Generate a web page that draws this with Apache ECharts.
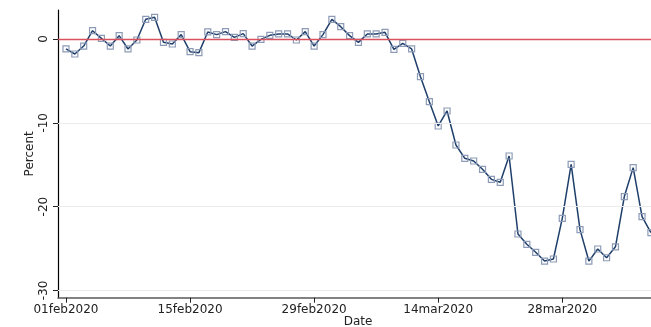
<!DOCTYPE html>
<html>
<head>
<meta charset="utf-8">
<script src="https://cdn.jsdelivr.net/npm/echarts@6/dist/echarts.min.js"></script>
<style>
html,body{margin:0;padding:0;background:#fff;}
#chart{width:651px;height:327px;}
</style>
</head>
<body>
<div id="chart"></div>
<script>
// Day offsets from 01feb2020 for the x tick labels
const tickDays = [0, 14, 28, 42, 56];
const tickLabels = ['01feb2020', '15feb2020', '29feb2020', '14mar2020', '28mar2020'];
const yTicks = [0, -10, -20, -30];
const gridValues = [-10, -20, -30];
const refValue = 0;
// Daily values, 01feb2020 .. 07apr2020
const percent = [
  -1.19, -1.79, -0.84, 0.99, 0.08, -0.84, 0.40, -1.19, -0.12, 2.35,
  2.59, -0.40, -0.60, 0.52, -1.51, -1.63, 0.84, 0.52, 0.88, 0.20,
  0.64, -0.84, -0.04, 0.44, 0.60, 0.60, -0.12, 0.88, -0.84, 0.52,
  2.35, 1.47, 0.40, -0.40, 0.60, 0.60, 0.80, -1.23, -0.52, -1.19,
  -4.5, -7.48, -10.38, -8.59, -12.65, -14.24, -14.56, -15.55, -16.75, -17.1,
  -13.96, -23.27, -24.5, -25.45, -26.5, -26.25, -21.4, -14.96, -22.75, -26.5,
  -25.06, -26.1, -24.8, -18.8, -15.35, -21.2, -23.1
];

const seriesData = percent.map((v, i) => [i, v]);
const font = 'DejaVu Sans';

const chart = echarts.init(document.getElementById('chart'), null, {renderer: 'canvas'});
chart.setOption({
  animation: false,
  backgroundColor: '#ffffff',
  grid: {left: 58, right: -7, top: 10, bottom: 29.3, containLabel: false, outerBoundsMode: 'none'},
  xAxis: {
    type: 'value', min: -0.9, max: 66.8,
    name: 'Date', nameLocation: 'middle', nameGap: 18, nameMoveOverlap: false,
    nameTextStyle: {fontFamily: font, fontSize: 12, color: '#222'},
    axisLine: {show: true, onZero: false, lineStyle: {color: '#5a5a5a', width: 1.5}},
    axisTick: {show: true, length: 5, customValues: tickDays, lineStyle: {color: '#222', width: 1}},
    axisLabel: {
      customValues: tickDays, margin: 6,
      fontFamily: font, fontSize: 12, color: '#222',
      formatter: v => tickLabels[tickDays.indexOf(v)] || ''
    },
    splitLine: {show: false}
  },
  yAxis: {
    type: 'value', min: -30.87, max: 3.46,
    name: 'Percent', nameLocation: 'middle', nameGap: 22, nameMoveOverlap: false,
    nameTextStyle: {fontFamily: font, fontSize: 12, color: '#222'},
    axisLine: {show: true, onZero: false, lineStyle: {color: '#000', width: 1.2}},
    axisTick: {show: true, length: 5, customValues: yTicks, lineStyle: {color: '#222', width: 1}},
    axisLabel: {
      customValues: yTicks, rotate: 90, margin: 8,
      fontFamily: font, fontSize: 12, color: '#222'
    },
    splitLine: {show: false}
  },
  series: [{
    type: 'line',
    data: [],
    z: 1,
    markLine: {
      silent: true, symbol: 'none', label: {show: false}, animation: false,
      lineStyle: {color: '#ebebeb', width: 1, type: 'solid'},
      data: gridValues.map(v => ({yAxis: v}))
    }
  }, {
    type: 'line',
    data: [],
    z: 2,
    markLine: {
      silent: true, symbol: 'none', label: {show: false}, animation: false,
      lineStyle: {color: '#d9525e', width: 1.3, type: 'solid', opacity: 1},
      data: [{yAxis: refValue}]
    }
  }, {
    type: 'line',
    data: seriesData,
    symbol: 'rect',
    symbolSize: 6,
    showAllSymbol: true,
    clip: false,
    lineStyle: {color: '#1f3f6b', width: 1.5},
    itemStyle: {color: 'rgba(255,255,255,0)', borderColor: '#8d9bb6', borderWidth: 1.2},
    emphasis: {disabled: true},
    z: 3
  }]
});
</script>
</body>
</html>
